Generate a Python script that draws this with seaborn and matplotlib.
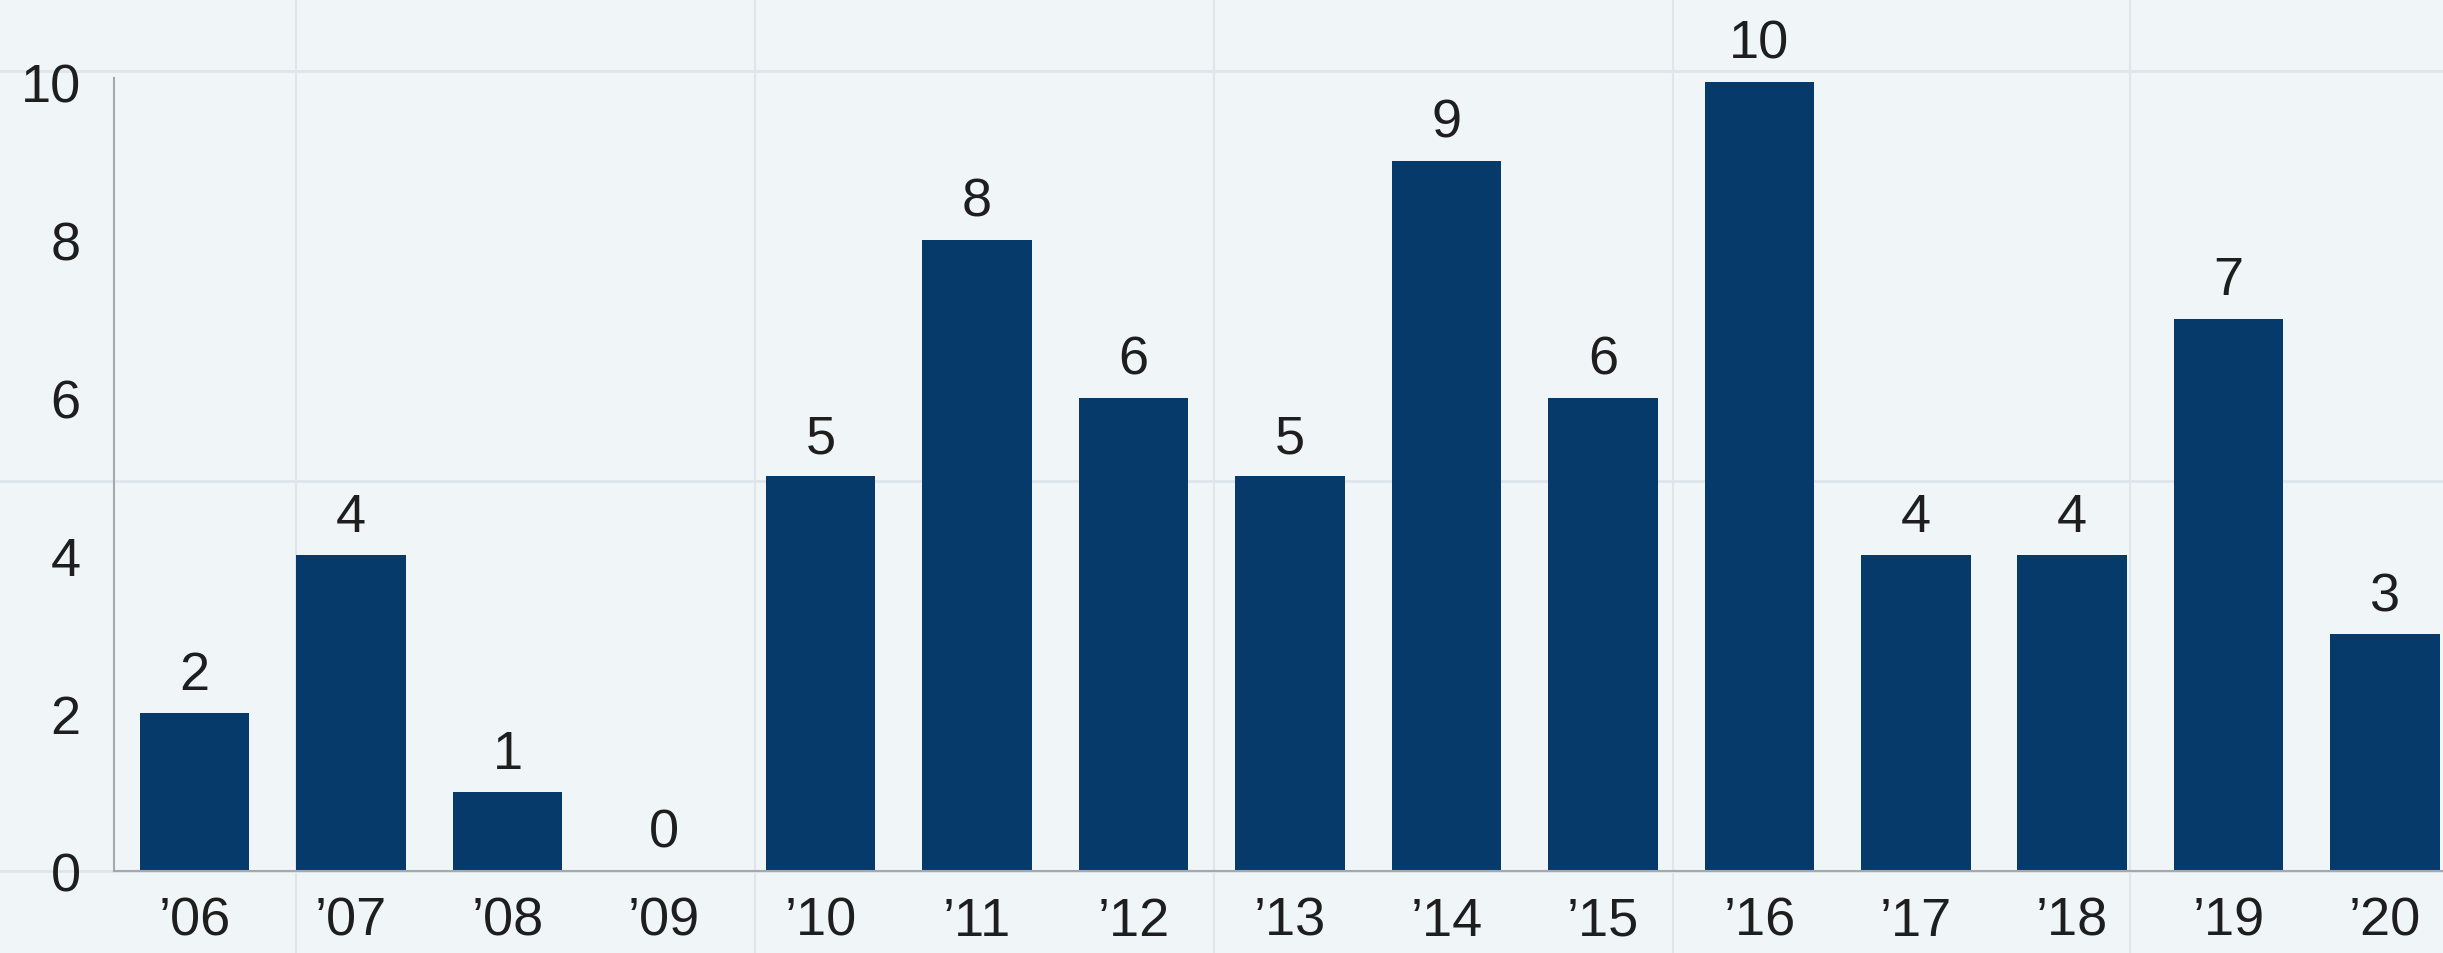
import matplotlib
matplotlib.use("Agg")
import matplotlib.pyplot as plt
import seaborn as sns
import pandas as pd
from matplotlib.lines import Line2D

# data
years = ["’06", "’07", "’08", "’09", "’10", "’11", "’12", "’13",
         "’14", "’15", "’16", "’17", "’18", "’19", "’20"]
counts = [2, 4, 1, 0, 5, 8, 6, 5, 9, 6, 10, 4, 4, 7, 3]

df = pd.DataFrame({"year": years, "count": counts})

bg = "#f0f5f8"
navy = "#063a6b"
grid_c = "#dfe6eb"
text_c = "#1e1e1e"

plt.rcParams["font.family"] = ["Liberation Sans", "DejaVu Sans"]

W, H = 2443, 954
fig = plt.figure(figsize=(W / 100, H / 100), dpi=100, facecolor=bg)
ax = fig.add_axes([114 / W, 1 - 872 / H, 1 - 114 / W, (872 - 79) / H])
ax.patch.set_visible(False)

# faint background grid behind the chart
for y in [72, 482, 872]:
    fig.add_artist(Line2D([0, 1], [1 - y / H, 1 - y / H], transform=fig.transFigure,
                          color=grid_c, lw=2, zorder=-1))
for x in [296, 755, 1214, 1673, 2130]:
    fig.add_artist(Line2D([x / W, x / W], [0, 1], transform=fig.transFigure,
                          color=grid_c, lw=1.5, zorder=-1))

sns.barplot(data=df, x="year", y="count", color=navy, saturation=1, width=0.7, ax=ax)

ax.bar_label(ax.containers[0], labels=[str(c) for c in counts], padding=9.5,
             fontsize=39, color=text_c)

ax.set_xlim(-0.516, 14.37)
ax.set_ylim(0, 10.05)
ax.set_yticks([0, 2, 4, 6, 8, 10])
ax.set_xlabel("")
ax.set_ylabel("")
ax.tick_params(axis="both", length=0, labelsize=39, colors=text_c)
ax.tick_params(axis="y", pad=24)
ax.tick_params(axis="x", pad=18)

for s in ["top", "right"]:
    ax.spines[s].set_visible(False)
for s in ["left", "bottom"]:
    ax.spines[s].set_color("#a3a9ae")
    ax.spines[s].set_linewidth(1.5)

fig.savefig("out.png", dpi=100, facecolor=bg)
